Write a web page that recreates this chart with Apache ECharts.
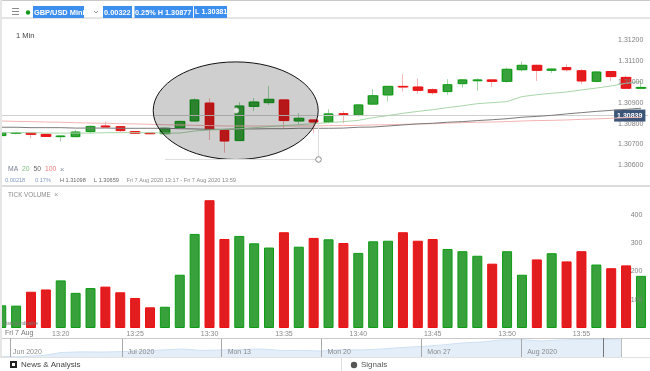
<!DOCTYPE html>
<html>
<head>
<meta charset="utf-8">
<style>html,body{margin:0;padding:0;background:#fff}#chart{width:650px;height:371px}</style>
<script src="https://cdn.jsdelivr.net/npm/echarts@6/dist/echarts.min.js"></script>
</head>
<body>
<div id="chart"></div>
<script>
var times = ['13:16','13:17','13:18','13:19','13:20','13:21','13:22','13:23','13:24','13:25','13:26','13:27','13:28','13:29','13:30','13:31','13:32','13:33','13:34','13:35','13:36','13:37','13:38','13:39','13:40','13:41','13:42','13:43','13:44','13:45','13:46','13:47','13:48','13:49','13:50','13:51','13:52','13:53','13:54','13:55','13:56','13:57','13:58','13:59'];

var opens = [1.30743,1.30754,1.30755,1.30749,1.30738,1.30738,1.30762,1.30789,1.30786,1.30762,1.30755,1.30752,1.30781,1.30813,1.30899,1.30768,1.30719,1.30883,1.30901,1.30914,1.30813,1.30818,1.30807,1.30848,1.30840,1.30894,1.30938,1.30979,1.30976,1.30963,1.30954,1.30992,1.31006,1.31010,1.31003,1.31059,1.31080,1.31056,1.31069,1.31054,1.31003,1.31050,1.31022,1.30970];
var closes = [1.30757,1.30757,1.30749,1.30739,1.30741,1.30760,1.30787,1.30784,1.30767,1.30754,1.30752,1.30778,1.30811,1.30914,1.30773,1.30717,1.30885,1.30904,1.30917,1.30815,1.30826,1.30808,1.30847,1.30840,1.30890,1.30934,1.30979,1.30976,1.30960,1.30949,1.30987,1.31010,1.31010,1.31003,1.31061,1.31080,1.31056,1.31062,1.31059,1.31005,1.31048,1.31026,1.30970,1.30974];
var lows = [1.30741,1.30749,1.30730,1.30738,1.30714,1.30736,1.30754,1.30783,1.30760,1.30751,1.30749,1.30751,1.30778,1.30810,1.30722,1.30661,1.30717,1.30861,1.30890,1.30778,1.30791,1.30754,1.30802,1.30802,1.30834,1.30890,1.30906,1.30954,1.30944,1.30939,1.30939,1.30973,1.30958,1.30976,1.30997,1.31050,1.31005,1.31043,1.31051,1.30989,1.30998,1.31005,1.30966,1.30965];
var highs = [1.30760,1.30760,1.30759,1.30752,1.30743,1.30770,1.30792,1.30810,1.30789,1.30765,1.30759,1.30781,1.30815,1.30922,1.30922,1.30773,1.30903,1.30923,1.30981,1.30918,1.30850,1.30821,1.30869,1.30861,1.30894,1.30965,1.30982,1.31038,1.31016,1.30970,1.31014,1.31013,1.31018,1.31013,1.31069,1.31098,1.31083,1.31067,1.31085,1.31061,1.31051,1.31053,1.31029,1.31000];

var ma20 = [1.30757,1.30757,1.30757,1.30755,1.30755,1.30755,1.30755,1.30757,1.30757,1.30757,1.30757,1.30755,1.30755,1.30765,1.30770,1.30773,1.30776,1.30781,1.30786,1.30791,1.30795,1.30800,1.30805,1.30810,1.30816,1.30829,1.30839,1.30850,1.30859,1.30867,1.30877,1.30886,1.30896,1.30901,1.30906,1.30930,1.30939,1.30946,1.30952,1.30962,1.30971,1.30981,1.30994,1.31002];
var ma50 = [1.30783,1.30783,1.30781,1.30781,1.30781,1.30779,1.30779,1.30779,1.30778,1.30778,1.30778,1.30778,1.30776,1.30775,1.30773,1.30773,1.30775,1.30775,1.30776,1.30776,1.30778,1.30778,1.30778,1.30779,1.30783,1.30784,1.30789,1.30794,1.30799,1.30802,1.30807,1.30810,1.30815,1.30819,1.30824,1.30831,1.30835,1.30840,1.30847,1.30853,1.30859,1.30864,1.30869,1.30874];
var ma100 = [1.30813,1.30811,1.30810,1.30808,1.30807,1.30805,1.30803,1.30802,1.30800,1.30799,1.30797,1.30795,1.30794,1.30792,1.30791,1.30789,1.30789,1.30789,1.30789,1.30789,1.30789,1.30789,1.30791,1.30791,1.30792,1.30794,1.30795,1.30797,1.30799,1.30800,1.30803,1.30805,1.30807,1.30808,1.30810,1.30813,1.30815,1.30816,1.30818,1.30821,1.30823,1.30826,1.30829,1.30831];
var lastPrice = 1.30839;

var volumes = [80,79,128,136,168,124,141,146,126,106,73,75,188,332,451,314,325,299,284,338,287,318,313,300,265,306,308,338,308,314,279,271,255,227,271,188,242,264,235,271,224,211,221,184];

var navDates = ['','','','','','','Jul 2020','','','','','Mon 13','','','','','Mon 20','','','','','Mon 27','','','','','Aug 2020','','','','',''];
var navValues = [1.222,1.222,1.227,1.242,1.245,1.244,1.246,1.249,1.254,1.259,1.252,1.254,1.256,1.259,1.252,1.252,1.249,1.256,1.254,1.259,1.266,1.271,1.278,1.288,1.293,1.303,1.305,1.298,1.303,1.305,1.306,1.303];

var GREEN = '#38a13c', RED = '#e11d1f';
var candleData = opens.map(function (o, i) { return [o, closes[i], lows[i], highs[i]]; });
var bodyData = opens.map(function (o, i) { return [o, closes[i], Math.min(o, closes[i]), Math.max(o, closes[i])]; });
var volumeData = volumes.map(function (v, i) {
    return {value: v, itemStyle: closes[i] >= opens[i]
        ? {color: GREEN, borderColor: '#0d9c14', borderWidth: 1}
        : {color: RED, borderColor: '#ee0f12', borderWidth: 1}};
});

var FONT = '"Liberation Sans", Arial, sans-serif';

function label(x, y, text, size, color, weight) {
    return {type: 'text', x: x, y: y, z: 60, style: {
        text: text, fill: color, font: (weight || 'normal') + ' ' + size + 'px ' + FONT, textVerticalAlign: 'middle'
    }};
}
function box(x, y, w, h, color, z) {
    return {type: 'rect', z: z || 50, shape: {x: x, y: y, width: w, height: h}, style: {fill: color}};
}
function seg(x1, y1, x2, y2, color, width) {
    return {type: 'line', z: 55, shape: {x1: x1, y1: y1, x2: x2, y2: y2}, style: {stroke: color, lineWidth: width || 1}};
}

var chrome = [
    // separators
    box(0, 0, 650, 1, '#c9c9c9'),
    box(0, 17, 650, 2, '#e4e4e4'),
    box(0, 185, 650, 2, '#dcdcdc'),
    box(2, 338, 648, 1, '#c8c8c8'),
    box(0, 357, 650, 1, '#e2e2e2'),
    box(0, 0, 2, 357, '#e6e6e6', 70),
    // header
    box(12, 8, 7, 1, '#8a8a8a'), box(12, 11, 7, 1, '#8a8a8a'), box(12, 14, 7, 1, '#8a8a8a'),
    {type: 'circle', z: 55, shape: {cx: 28, cy: 12.5, r: 2.2}, style: {fill: '#149a1e'}},
    box(33, 6, 51, 12, '#3d8fef'),
    box(103, 6, 29, 12, '#3d8fef'),
    box(134.5, 6, 58.5, 12, '#3d8fef'),
    box(194, 6, 33, 12, '#3d8fef'),
    {type: 'polyline', z: 55, shape: {points: [[94, 11], [96, 13], [98, 11]]}, style: {stroke: '#999', fill: null, lineWidth: 1}},
    label(34, 12.5, 'GBP/USD Mini', 7.4, '#fff', 'bold'),
    label(104, 12.5, '0.00322', 7.4, '#fff', 'bold'),
    label(135, 12.5, '0.25% H 1.30877', 7.3, '#fff', 'bold'),
    label(195, 12.5, 'L 1.30381', 7.2, '#fff', 'bold'),
    label(16, 36, '1 Min', 7.5, '#444'),
    // indicator captions
    label(8, 169.5, 'MA', 6.8, '#77808c'),
    label(22, 169.5, '20', 6.8, '#7fbf7f'),
    label(33.5, 169.5, '50', 6.8, '#666'),
    label(45, 169.5, '100', 6.8, '#ee7d7d'),
    label(60, 169.5, '\u00d7', 7.5, '#8a94a0'),
    label(5, 180, '0.00218', 5.6, '#7f99c4'),
    label(35, 180, '0.17%', 5.6, '#7f99c4'),
    label(60, 180, 'H 1.31098', 5.6, '#666'),
    label(94, 180, 'L 1.30659', 5.6, '#666'),
    label(126.5, 180, 'Fri 7 Aug 2020 13:17 - Fri 7 Aug 2020 13:59', 5.6, '#8a8a8a'),
    label(8, 195, 'TICK VOLUME', 6.3, '#8a8a8a'),
    label(54, 194.5, '\u00d7', 7.5, '#999'),
    label(4, 324, 'Data is indicative', 4.5, '#777'),
    label(5, 333.5, 'Fri 7 Aug', 7, '#777'),
    // navigator extras
    seg(10.5, 338, 10.5, 357, '#a8a8a8'),
    label(13, 352, 'Jun 2020', 7, '#8a8a8a'),
    seg(603.5, 338, 603.5, 357, '#777', 1),
    seg(621.5, 338, 621.5, 357, '#bdbdbd', 1),
    // footer
    box(10, 361, 7, 7, '#222'),
    box(12, 363, 3, 3, '#fff'),
    label(21, 365, 'News & Analysis', 8, '#444'),
    seg(341.5, 358, 341.5, 371, '#e0e0e0'),
    {type: 'circle', z: 55, shape: {cx: 354, cy: 365, r: 3.2}, style: {fill: '#555'}},
    label(361, 365, 'Signals', 8, '#555'),
    // drawn ellipse annotation with its selection box
    {type: 'ellipse', z: 40, shape: {cx: 235.7, cy: 110.7, rx: 82.5, ry: 48.8},
        style: {fill: 'rgba(0,0,0,0.19)', stroke: '#111', lineWidth: 1}},
    seg(165, 159.5, 316, 159.5, '#dedede'),
    seg(318.5, 122, 318.5, 157, '#dedede'),
    {type: 'circle', z: 56, shape: {cx: 318.5, cy: 159.5, r: 2.8}, style: {fill: '#fff', stroke: '#888', lineWidth: 1}},
    {type: 'circle', z: 56, shape: {cx: 236, cy: 110.5, r: 2.6}, style: {fill: '#dfe6df', stroke: '#cfcfcf', lineWidth: 1}}
];

function maLine(data, color) {
    return {type: 'line', data: data, xAxisIndex: 0, yAxisIndex: 0, symbol: 'none', z: 5, silent: true,
        lineStyle: {color: color, width: 1}};
}

var chart = echarts.init(document.getElementById('chart'));

chart.setOption({
    animation: false,
    backgroundColor: '#fff',
    grid: [
        {left: -6.2, top: 19.45, width: 654.6, height: 166.8, outerBoundsMode: 'none'},
        {left: -6.2, top: 186.35, width: 654.6, height: 141.65, outerBoundsMode: 'none'},
        {left: 2, top: 338.5, width: 619, height: 18.5, outerBoundsMode: 'none'}
    ],
    xAxis: [
        {type: 'category', gridIndex: 0, data: times, axisLine: {show: false}, axisTick: {show: false},
            axisLabel: {show: false}, splitLine: {show: false}},
        {type: 'category', gridIndex: 1, data: times, axisLine: {show: false}, axisTick: {show: false},
            axisLabel: {
                interval: function (i) { return i % 5 === 4; },
                color: '#8a8a8a', fontSize: 7, fontFamily: FONT, margin: 3
            }, splitLine: {show: false}},
        {type: 'category', gridIndex: 2, data: navDates, boundaryGap: false, z: 6, axisLine: {show: false}, axisTick: {show: false},
            axisLabel: {
                inside: true, margin: 1, align: 'left', padding: [0, 0, 0, 6], color: '#8a8a8a', fontSize: 7, fontFamily: FONT,
                interval: function (i, v) { return v !== ''; }
            },
            splitLine: {show: true, lineStyle: {color: '#a8a8a8', width: 1},
                interval: function (i, v) { return v !== ''; }}}
    ],
    yAxis: [
        {type: 'value', gridIndex: 0, position: 'right', min: 1.305, max: 1.313, interval: 0.001, z: 10,
            axisLine: {show: false}, axisTick: {show: false}, splitLine: {show: false},
            axisLabel: {inside: true, margin: 5, color: '#808080', fontSize: 7, fontFamily: FONT,
                showMinLabel: false, showMaxLabel: false,
                formatter: function (v) { return v.toFixed(5); }}},
        {type: 'value', gridIndex: 1, position: 'right', min: 0, max: 500, interval: 100, z: 10,
            axisLine: {show: false}, axisTick: {show: false}, splitLine: {show: false},
            axisLabel: {inside: true, margin: 6, color: '#808080', fontSize: 7, fontFamily: FONT,
                showMinLabel: false, showMaxLabel: false}},
        {type: 'value', gridIndex: 2, min: 1.22, max: 1.31, show: false}
    ],
    series: [
        // pale wicks and halo
        {type: 'candlestick', xAxisIndex: 0, yAxisIndex: 0, data: candleData, barWidth: 11, z: 2, silent: true,
            itemStyle: {color: '#a8d6aa', color0: '#f6b4b4', borderColor: '#a8d6aa', borderColor0: '#f6b4b4', borderWidth: 1},
            markLine: {
                silent: true, symbol: 'none', animation: false, precision: 5,
                lineStyle: {color: '#cfcfcf', width: 1, type: 'solid'},
                label: {position: 'insideEnd', distance: 3, formatter: lastPrice.toFixed(5), color: '#fff', fontSize: 7, fontFamily: FONT,
                    fontWeight: 'bold', backgroundColor: '#3b5579', padding: [3, 3, 2, 3]},
                data: [{yAxis: lastPrice}]
            }},
        // saturated bodies
        {type: 'candlestick', xAxisIndex: 0, yAxisIndex: 0, data: bodyData, barWidth: 9, z: 3, silent: true,
            itemStyle: {color: GREEN, color0: RED, borderColor: '#0d9c14', borderColor0: '#ee0f12', borderWidth: 1}},
        maLine(ma100, '#f4b3b3'),
        maLine(ma50, '#7c7c7c'),
        maLine(ma20, '#a9d6a9'),
        {type: 'bar', xAxisIndex: 1, yAxisIndex: 1, data: volumeData, barWidth: 10, silent: true},
        {type: 'line', xAxisIndex: 2, yAxisIndex: 2, data: navValues, symbol: 'none', silent: true,
            lineStyle: {color: '#cfe0f2', width: 1}, areaStyle: {color: '#e4eef9', opacity: 1}}
    ],
    graphic: {elements: chrome}
});
</script>
</body>
</html>
